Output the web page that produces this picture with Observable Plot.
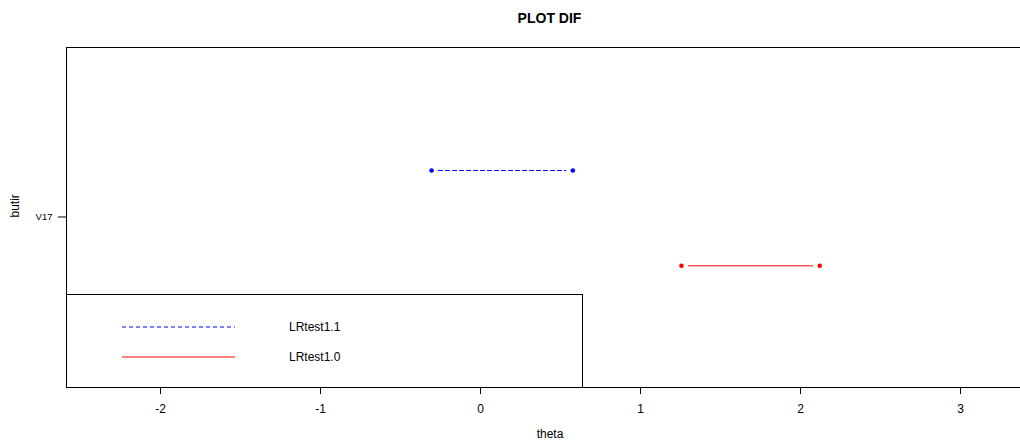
<!DOCTYPE html>
<html>
<head>
<meta charset="utf-8">
<script src="https://cdn.jsdelivr.net/npm/d3@7"></script>
<script src="https://cdn.jsdelivr.net/npm/@observablehq/plot@0.6"></script>
<style>
  html, body { margin: 0; padding: 0; background: #fff; overflow: hidden; }
  #wrap { position: relative; width: 1020px; height: 441px; font-family: "Liberation Sans", Arial, sans-serif; }
  #title { position: absolute; left: 449.5px; width: 200px; top: 10px; text-align: center; font-weight: bold; font-size: 14px; color: #000; }
  #legend { position: absolute; left: 66px; top: 294px; width: 515px; height: 92px; border: 1px solid #000; border-bottom: none; box-sizing: content-box; }
  #legend svg { position: absolute; left: 0; top: 0; }
</style>
</head>
<body>
<div id="wrap">
  <div id="chart"></div>
  <div id="title">PLOT DIF</div>
  <div id="legend"></div>
</div>
<script>
// Data
const items = ["V17"];
const itemPos = [1];
const series = ["LRtest1.1", "LRtest1.0"];
const seriesColors = ["blue", "red"];
const seriesDash = ["4,3", null];
const seriesY = [1.1, 0.895];
const thetaLow = [-0.306, 1.256];
const thetaHigh = [0.577, 2.12];
const xTicks = [-2, -1, 0, 1, 2, 3];

const segs = series.map((s, i) => ({
  series: s, y: seriesY[i], x1: thetaLow[i], x2: thetaHigh[i],
  color: seriesColors[i], dash: seriesDash[i]
}));
const pts = segs.flatMap(d => [{x: d.x1, y: d.y, color: d.color}, {x: d.x2, y: d.y, color: d.color}]);

const font = '"Liberation Sans", Arial, sans-serif';

const plot = Plot.plot({
  width: 1020,
  height: 441,
  marginLeft: 66,
  marginRight: -13,
  marginTop: 47,
  marginBottom: 54,
  style: { fontFamily: font, background: "white", color: "#000" },
  x: { domain: [-2.5875, 3.456], ticks: xTicks, tickSize: 7, tickPadding: 8, label: null },
  y: { domain: [0.6333, 1.3645], label: null },
  marks: [
    Plot.axisX({ ticks: xTicks, tickSize: 7, tickPadding: 10, fontSize: 12, tickFormat: d => d < 0 ? "-" + Math.abs(d) : String(d), label: null }),
    Plot.axisY({ ticks: itemPos, tickSize: 8, tickPadding: 6, fontSize: 9.5, tickFormat: (d) => items[itemPos.indexOf(d)], label: null }),
    Plot.frame({ stroke: "#000", strokeWidth: 1 }),
    ...segs.map(d => Plot.arrow([d], {
      x1: "x1", x2: "x2", y1: "y", y2: "y",
      stroke: d.color, strokeWidth: 1, strokeDasharray: d.dash,
      headLength: 0, inset: 7, bend: 0
    })),
    Plot.dot(pts, { x: "x", y: "y", fill: "color", r: 2.3, stroke: null }),
    Plot.text(["theta"], { frameAnchor: "bottom", dy: 50, fontSize: 12, fill: "#000" }),
    Plot.text(["butir"], { frameAnchor: "left", dx: -51, rotate: -90, fontSize: 12, fill: "#000" })
  ]
});
document.getElementById("chart").appendChild(plot);

// Legend
const leg = d3.select("#legend").append("svg").attr("width", 515).attr("height", 92);
series.forEach((s, i) => {
  const yy = 32 + i * 30;
  leg.append("line").attr("x1", 55).attr("x2", 168).attr("y1", yy).attr("y2", yy)
    .attr("stroke", seriesColors[i]).attr("stroke-width", 1)
    .attr("stroke-dasharray", seriesDash[i]);
  leg.append("text").attr("x", 222).attr("y", yy).attr("dy", "0.35em")
    .attr("font-size", 12).attr("font-family", font).attr("fill", "#000").text(s);
});
</script>
</body>
</html>
